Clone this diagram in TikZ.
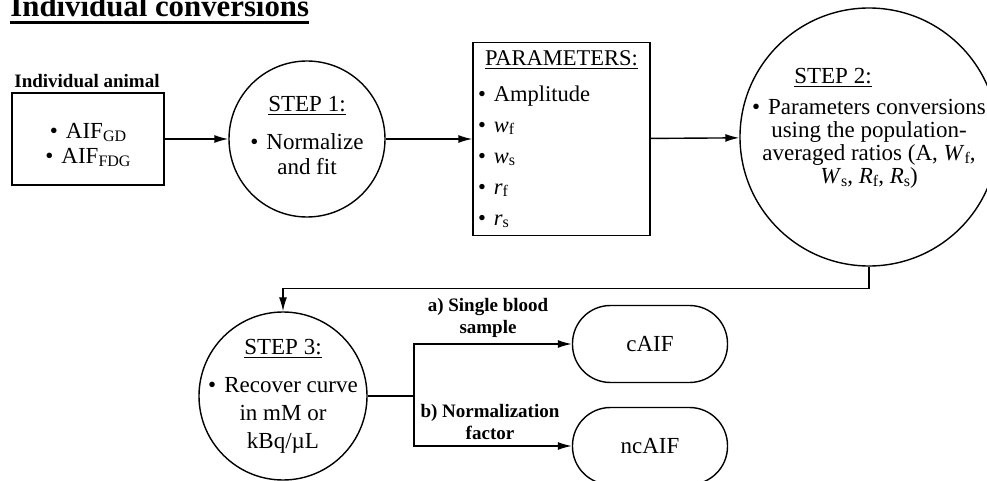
\documentclass[tikz,border=0pt]{standalone}
\usepackage{fontspec}
\setmainfont{Liberation Serif}
\usetikzlibrary{shapes,calc,arrows.meta}
\newcommand\lowsub[1]{\raisebox{-1.2pt}{\fontsize{8}{8}\selectfont #1}}
\newcommand\dotitem{\textbullet\hspace{4pt}}

\begin{document}
\begin{tikzpicture}[x=0.5pt,y=-0.5pt,
	every node/.style={font=\fontsize{11.5}{12.5}\selectfont},
	line/.style={line width=0.7pt},
	arrow/.style={line, -{Latex[length=7pt,width=4pt]}},
	stepcircle/.style={draw, line, circle, inner sep=0pt, align=center},
	pill/.style={draw, line, rectangle, rounded corners=19pt, minimum width=77.5pt, minimum height=38.5pt},
	tag/.style={font=\fontsize{9.5}{11}\selectfont\bfseries, align=center, inner sep=0pt}]
	\useasboundingbox (0,0) rectangle (987,481);
	\node[anchor=base west, inner sep=0pt, font=\fontsize{15.4}{16}\selectfont\bfseries] (title) at (10,17) {Individual conversions};
	\draw[line width=1.5pt] ([yshift=-2.25pt]title.south west) -- ([yshift=-2.25pt]title.south east);

	\node[tag] (animal label) at (87,81) {Individual animal};
	\node[draw, line, minimum width=76pt, minimum height=46pt, align=center, text height=26pt] (animal) at (88,139) {\dotitem AIF\lowsub{GD}\\ \dotitem AIF\lowsub{FDG}};
	\node[stepcircle, minimum size=78pt, text depth=4pt] (step1) at (307,139) {\underline{STEP 1:}\\[6.5pt] \dotitem Normalize\\ and fit};
	\node[draw, line, minimum width=88.5pt, minimum height=96.5pt, inner sep=2.5pt, text width=83.5pt, align=left, font=\fontsize{11.25}{15.5}\selectfont] (params) at (561.5,139) {\makebox[83.5pt]{\underline{PARAMETERS:}}\\[2.5pt]
		\dotitem Amplitude\\
		\dotitem \textit{w}\lowsub{f}\\
		\dotitem \textit{w}\lowsub{s}\\
		\dotitem \textit{r}\lowsub{f}\\
		\dotitem \textit{r}\lowsub{s}};
	\node[stepcircle, minimum size=129pt, inner sep=-3.5pt, text depth=11pt, font=\fontsize{11.5}{11.5}\selectfont] (step2) at (869,137) {\underline{STEP 2:}\hspace*{36pt}\\[4pt]
		\dotitem Parameters conversions\\
		using the population-\\
		averaged ratios (A, \textit{W}\lowsub{f},\\
		\textit{W}\lowsub{s}, \textit{R}\lowsub{f}, \textit{R}\lowsub{s})};
	\node[stepcircle, minimum size=84pt, inner sep=-5pt, font=\fontsize{11.5}{14}\selectfont] (step3) at (283,396) {\underline{STEP 3:}\\[5pt] \dotitem Recover curve\\ in mM or\\ kBq/µL};
	\node[pill] (caif) at (650,344) {cAIF};
	\node[pill] (ncaif) at (650,446) {ncAIF};
	\node[tag] (sample label) at (488,318) {a) Single blood\\ sample};
	\node[tag] (factor label) at (490,422) {b) Normalization\\ factor};

	\draw[arrow] (animal) -- (step1);
	\draw[arrow] (step1) -- (params);
	\draw[arrow] (params) -- (step2);
	\draw[arrow] (step2.south) -- ++(0,22) -| (step3.north);
	\coordinate (split) at (414,396);
	\draw[arrow] (step3.east) -- (split) |- (caif.west);
	\draw[arrow] (split) |- (ncaif.west);
\end{tikzpicture}
\end{document}
